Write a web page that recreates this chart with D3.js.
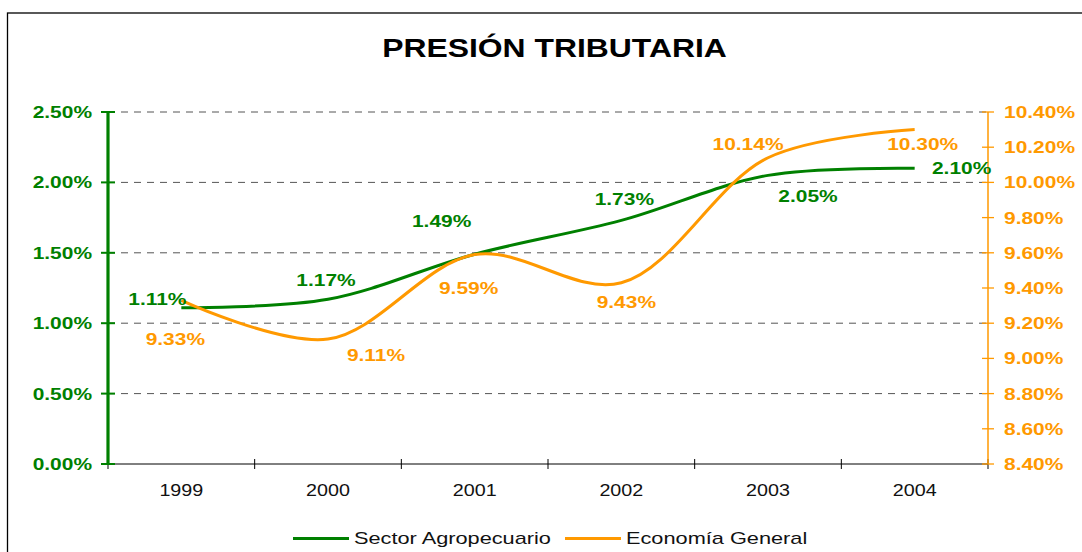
<!DOCTYPE html>
<html><head><meta charset="utf-8">
<script src="https://cdn.jsdelivr.net/npm/d3@7"></script>
<style>body{margin:0;background:#fff}svg{display:block}</style>
</head><body>
<svg id="c" width="1082" height="552"></svg>
<script>
const years = ["1999","2000","2001","2002","2003","2004"];
const agro = [1.11, 1.17, 1.49, 1.73, 2.05, 2.10];
const econ = [9.33, 9.11, 9.59, 9.43, 10.14, 10.30];
const leftTicks = [0, 0.5, 1.0, 1.5, 2.0, 2.5];
const rightTicks = [8.4, 8.6, 8.8, 9.0, 9.2, 9.4, 9.6, 9.8, 10.0, 10.2, 10.4];
const seriesNames = ["Sector Agropecuario", "Economía General"];
// label offsets (layout only)
const agroLabelOff = [[-24,-9],[-2,-19],[-33,-33],[3,-21],[40,21],[47,0]];
const econLabelOff = [[-6,39],[48,16],[-6,33],[5,19],[-20,-14],[8,14]];

const GREEN = "#008000", ORANGE = "#FF9900";
const FONT = "'Liberation Sans', Arial, sans-serif";
const svg = d3.select("#c");

// frame
svg.append("rect").attr("x",7.5).attr("y",13).attr("width",1100).attr("height",600)
  .attr("fill","none").attr("stroke","#000").attr("stroke-width",1.3);

const L = 108, R = 988, T = 112, B = 464;
const xBand = d3.scaleBand().domain(years).range([L,R]).padding(0);
const x = d3.scalePoint().domain(years).range([L,R]).padding(0.5);
const yL = d3.scaleLinear().domain([0,2.5]).range([B,T]);
const yR = d3.scaleLinear().domain([8.4,10.4]).range([B,T]);
const fmt = v => d3.format(".2f")(v) + "%";

function stext(g, txt, px, py, size, weight, color, anchor, sx) {
  return g.append("text").text(txt)
    .attr("transform", `translate(${px},${py}) scale(${sx},1)`)
    .attr("font-family", FONT).attr("font-size", size).attr("font-weight", weight)
    .attr("fill", color).attr("text-anchor", anchor);
}

// title
stext(svg, "PRESIÓN TRIBUTARIA", 554.5, 56.5, 25.5, "bold", "#000", "middle", 1.25);

// gridlines
svg.append("g").selectAll("line").data(leftTicks.filter(d=>d>0)).join("line")
  .attr("x1",L).attr("x2",R).attr("y1",d=>yL(d)).attr("y2",d=>yL(d))
  .attr("stroke","#555").attr("stroke-width",1).attr("stroke-dasharray","7,6");

// x axis
const xa = svg.append("g").attr("transform",`translate(0,${B})`);
xa.append("line").attr("x1",L).attr("x2",R).attr("stroke","#000").attr("stroke-width",1);
const bounds = years.map(y=>xBand(y)).concat([xBand(years[years.length-1])+xBand.bandwidth()]);
xa.selectAll("line.tk").data(bounds).join("line").attr("class","tk")
  .attr("x1",d=>d).attr("x2",d=>d).attr("y1",-5).attr("y2",5).attr("stroke","#000");
years.forEach(yr => stext(xa, yr, x(yr), 32, 17, "normal", "#111", "middle", 1.16));

// left axis
const la = svg.append("g");
la.append("line").attr("x1",L).attr("x2",L).attr("y1",T).attr("y2",B)
  .attr("stroke",GREEN).attr("stroke-width",3.2);
la.selectAll("line.tk").data(leftTicks).join("line").attr("class","tk")
  .attr("x1",L-7).attr("x2",L+7).attr("y1",d=>yL(d)).attr("y2",d=>yL(d))
  .attr("stroke",GREEN).attr("stroke-width",2);
leftTicks.forEach(t => stext(la, fmt(t*1), 92, yL(t)+6, 16.5, "bold", GREEN, "end", 1.27));

// right axis
const ra = svg.append("g");
ra.append("line").attr("x1",R).attr("x2",R).attr("y1",T).attr("y2",B)
  .attr("stroke",ORANGE).attr("stroke-width",1.5);
ra.selectAll("line.tk").data(rightTicks).join("line").attr("class","tk")
  .attr("x1",R-6).attr("x2",R+6).attr("y1",d=>yR(d)).attr("y2",d=>yR(d))
  .attr("stroke",ORANGE).attr("stroke-width",1.3);
rightTicks.forEach(t => stext(ra, fmt(t), 1004, yR(t)+6, 16.5, "bold", ORANGE, "start", 1.27));

// lines
const curve = d3.curveCatmullRom.alpha(0.5);
const lineL = d3.line().x((d,i)=>x(years[i])).y(d=>yL(d)).curve(curve);
const lineR = d3.line().x((d,i)=>x(years[i])).y(d=>yR(d)).curve(curve);
svg.append("path").attr("d",lineL(agro)).attr("fill","none").attr("stroke",GREEN).attr("stroke-width",3);
svg.append("path").attr("d",lineR(econ)).attr("fill","none").attr("stroke",ORANGE).attr("stroke-width",3);

// data labels
const dl = svg.append("g");
agro.forEach((v,i)=> stext(dl, fmt(v), x(years[i])+agroLabelOff[i][0], yL(v)+agroLabelOff[i][1]+6, 16.5, "bold", GREEN, "middle", 1.27));
econ.forEach((v,i)=> stext(dl, fmt(v), x(years[i])+econLabelOff[i][0], yR(v)+econLabelOff[i][1]+6, 16.5, "bold", ORANGE, "middle", 1.27));

// legend
const lg = svg.append("g");
const legX = [293, 565];
[GREEN, ORANGE].forEach((c,i)=>{
  lg.append("line").attr("x1",legX[i]).attr("x2",legX[i]+56).attr("y1",538.5).attr("y2",538.5)
    .attr("stroke",c).attr("stroke-width",3);
  stext(lg, seriesNames[i], legX[i]+61, 544, 16, "normal", "#111", "start", 1.36);
});
</script>
</body></html>
